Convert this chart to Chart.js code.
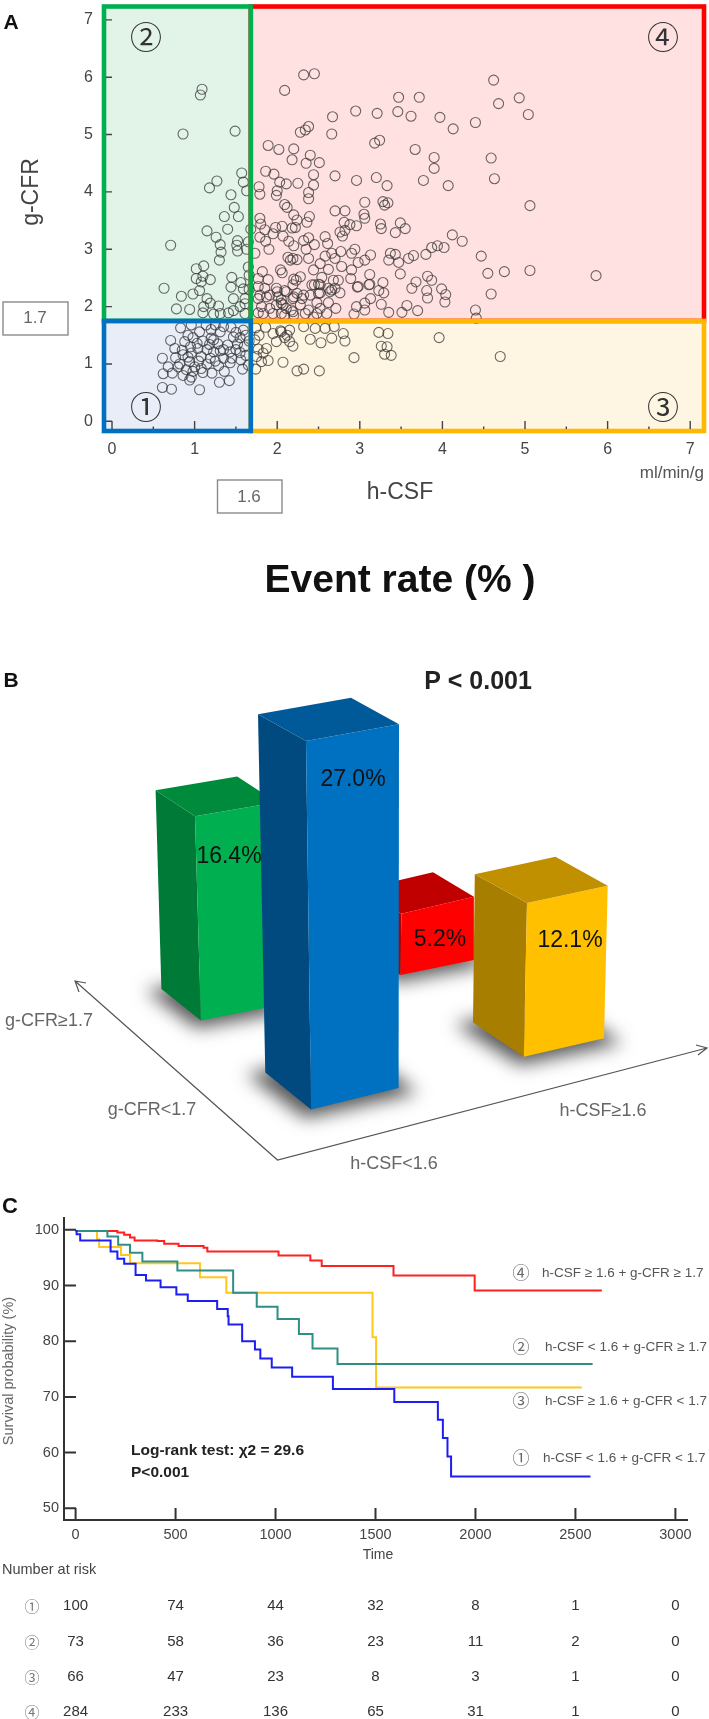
<!DOCTYPE html>
<html>
<head>
<meta charset="utf-8">
<title>h-CSF and g-CFR</title>
<script src="https://cdn.jsdelivr.net/npm/chart.js@4"></script>
<style>
	html, body { margin: 0; padding: 0; background: #fff; }
	#page { position: relative; width: 709px; height: 1719px; overflow: hidden; }
	canvas { position: absolute; left: 0; }
</style>
</head>
<body>
<div id="page">
	<canvas id="scatterChart" width="709" height="620" style="top:0"></canvas>
	<canvas id="eventChart" width="709" height="630" style="top:620px"></canvas>
	<canvas id="survivalChart" width="709" height="529" style="top:1190px"></canvas>
</div>
<script>
// panel A: h-CSF, g-CFR of each patient, by quadrant
const q1 = [[.83,1.63],[1.06,1.56],[1.14,1.68],[.71,1.41],[.88,1.39],[.98,1.46],[1.40,1.33],[1.55,1.46],[1.44,1.64],[1.31,1.56],[1.59,1.59],[1.04,1.27],[1.15,1.25],[.85,1.24],[1.23,1.21],[1.31,1.23],[1.43,1.21],[.96,1.19],[.77,1.11],[.86,1.16],[1.08,1.13],[1.19,1.10],[.61,1.10],[.82,1.0],[.94,1.04],[.68,.95],[1.29,.97],[1.43,1.02],[1.56,1.07],[1.08,.92],[.98,.87],[.73,.84],[.86,.80],[.62,.83],[1.21,.84],[1.36,.87],[1.58,.91],[.96,.77],[.94,.72],[1.42,.71],[1.30,.68],[.61,.59],[.72,.56],[1.06,.55],[.96,1.68],[1.47,1.47],[1.23,1.42],[.92,1.5],[1.2,1.45],[1.28,1.35],[1.35,1.25],[1.5,1.25],[1.55,1.2],[1.6,1.3],[1.62,1.5],[1.5,1.55],[1.2,1.6],[1.35,1.65],[1.1,1.4],[.95,1.3],[1.05,1.05],[1.15,1.0],[1.25,1.05],[1.35,1.1],[1.45,1.1],[1.0,.95],[.8,.95],[.9,.9],[1.1,.85],[1.62,1.15],[1.03,1.36],[1.18,1.34],[.76,1.27],[.92,1.12],[1.52,1.35],[1.66,1.4],[1.65,.98],[1.25,1.68]];
const q2 = [[1.09,5.79],[1.07,5.69],[.86,5.01],[1.49,5.06],[1.57,4.33],[1.27,4.19],[1.18,4.07],[1.59,4.17],[1.63,4.02],[1.44,3.95],[1.48,3.73],[1.36,3.57],[1.53,3.57],[1.40,3.35],[1.15,3.32],[1.26,3.21],[1.68,3.35],[.71,3.07],[1.31,3.08],[1.52,3.15],[1.51,3.07],[1.52,2.97],[1.32,2.95],[1.30,2.81],[1.65,3.13],[1.63,3.0],[1.11,2.71],[1.02,2.66],[1.10,2.53],[1.02,2.49],[1.19,2.47],[1.08,2.43],[1.45,2.51],[1.65,2.69],[1.56,2.42],[1.44,2.34],[1.59,2.31],[1.06,2.28],[.63,2.32],[.84,2.18],[.98,2.22],[1.15,2.14],[1.19,2.06],[1.47,2.14],[1.61,2.14],[1.29,2.01],[1.11,2.0],[.78,1.96],[.94,1.95],[1.10,1.89],[1.23,1.87],[1.31,1.88],[1.41,1.89],[1.47,1.93],[1.55,2.0],[1.61,1.88],[1.61,2.05],[1.66,2.3],[1.66,2.55]];
const q3 = [[2.05,1.56],[2.15,1.59],[2.09,1.46],[2.15,1.39],[2.19,1.31],[2.32,1.65],[2.46,1.62],[2.58,1.62],[2.69,1.65],[2.80,1.53],[2.82,1.40],[2.40,1.43],[2.53,1.37],[2.66,1.45],[3.23,1.55],[3.34,1.53],[3.26,1.31],[3.33,1.30],[3.30,1.17],[3.38,1.15],[3.96,1.46],[2.93,1.11],[2.07,1.03],[2.24,.88],[2.32,.91],[2.51,.88],[4.70,1.13],[1.74,1.63],[1.86,1.64],[1.78,1.50],[2.04,1.58],[1.99,1.39],[2.12,1.50],[1.77,1.26],[1.83,1.19],[1.89,1.06],[1.81,1.04],[1.74,.91],[1.75,1.13],[1.95,1.53],[1.87,1.27],[1.73,1.42]];
const q4 = [[2.32,6.04],[2.45,6.06],[2.09,5.77],[2.95,5.41],[2.67,5.31],[2.38,5.14],[2.34,5.08],[2.28,5.04],[2.66,5.01],[1.89,4.81],[2.02,4.74],[2.20,4.75],[2.18,4.56],[2.40,4.64],[2.35,4.50],[2.51,4.51],[1.86,4.36],[1.96,4.31],[2.03,4.17],[2.11,4.14],[2.25,4.15],[2.44,4.30],[2.44,4.12],[2.70,4.28],[2.96,4.20],[1.78,4.09],[1.79,3.96],[2.00,4.02],[1.99,3.94],[2.38,3.99],[2.38,3.88],[2.09,3.78],[2.12,3.73],[2.20,3.60],[2.24,3.51],[2.39,3.57],[2.36,3.47],[2.70,3.67],[2.82,3.67],[2.81,3.47],[2.88,3.43],[2.96,3.41],[2.76,3.30],[2.82,3.33],[2.79,3.23],[1.79,3.54],[1.80,3.44],[1.85,3.34],[1.98,3.38],[2.06,3.40],[1.95,3.27],[2.07,3.23],[2.18,3.37],[2.22,3.38],[1.79,3.21],[1.86,3.14],[2.14,3.14],[2.20,3.06],[2.32,3.15],[2.38,3.20],[2.45,3.08],[2.58,3.22],[2.61,3.10],[1.90,3.0],[2.35,3.0],
	[4.62,5.95],[3.47,5.65],[3.72,5.65],[4.93,5.64],[3.21,5.37],[3.46,5.40],[3.62,5.32],[3.97,5.30],[4.13,5.10],[4.40,5.21],[4.68,5.54],[5.04,5.35],[3.24,4.90],[3.18,4.85],[3.67,4.74],[3.90,4.60],[4.59,4.59],[3.90,4.41],[3.77,4.20],[4.07,4.11],[4.63,4.23],[3.20,4.25],[3.33,4.11],[3.06,3.82],[3.28,3.83],[3.34,3.81],[3.30,3.77],[5.06,3.76],[3.05,3.61],[3.06,3.54],[3.25,3.44],[3.26,3.36],[3.49,3.46],[3.55,3.36],[3.43,3.29],[4.12,3.25],[4.24,3.14],[3.87,3.03],[3.94,3.06],[4.02,3.03],[2.94,3.0],
	[4.47,2.88],[3.80,2.91],[3.65,2.89],[3.59,2.84],[3.37,2.93],[3.43,2.91],[3.35,2.81],[3.47,2.77],[3.13,2.90],[3.06,2.81],[2.98,2.77],[2.77,2.96],[2.90,2.93],[2.58,2.88],[2.70,2.84],[2.66,2.93],[2.38,2.84],[2.24,2.82],[2.16,2.81],[2.78,2.70],[2.44,2.64],[2.62,2.65],[2.52,2.75],[2.90,2.64],[2.89,2.49],[3.49,2.57],[3.12,2.56],[4.55,2.58],[4.75,2.61],[5.06,2.63],[5.86,2.54],[3.82,2.53],[3.87,2.46],[3.68,2.43],[3.63,2.32],[3.28,2.42],[3.12,2.39],[2.98,2.35],[3.23,2.28],[3.29,2.24],[3.81,2.28],[3.82,2.15],[3.99,2.31],[4.04,2.21],[4.03,2.08],[4.59,2.22],[3.13,2.14],[3.06,2.06],[3.26,2.04],[3.35,1.90],[3.51,1.90],[3.57,2.02],[3.70,1.93],[2.96,2.0],[3.06,1.94],[2.93,1.87],[4.40,1.94],[4.41,1.80],
	[2.54,2.51],[2.45,2.38],[2.28,2.52],[2.20,2.48],[2.68,2.46],[2.74,2.46],[2.52,2.38],[2.70,2.32],[2.62,2.32],[2.76,2.24],[2.64,2.26],[2.52,2.24],[2.40,2.20],[2.24,2.23],[2.32,2.2],[2.20,2.17],
	[1.73,2.93],[2.19,2.84],[2.13,2.86],[1.82,2.61],[2.04,2.64],[2.06,2.59],[1.77,2.49],[1.89,2.47],[1.99,2.32],[1.85,2.32],[1.77,2.35],[2.23,2.46],[2.19,2.38],[2.11,2.26],[1.91,2.2],[2.01,2.17],[1.79,2.2],[1.77,2.14],[2.19,2.14],
	[2.09,2.28],[2.05,2.06],[2.3,2.14],[2.42,2.38],[2.5,2.39],[2.5,2.23],[2.48,2.07],[2.62,2.07],[2.71,1.97],[2.66,2.29],[2.97,2.34],[3.11,2.38],[2.17,1.94],[2.28,2.03],[2.07,2.03],[2.38,1.94],[2.52,1.97],[2.44,1.82],[2.2,1.85],[2.09,1.85],[2.34,1.88],[2.48,1.88],[2.6,1.88],[1.87,2.17],[2.0,2.26],[2.05,2.12],[1.81,2.0],[1.91,1.97],[1.99,2.03],[2.11,1.97],[1.77,1.89],[1.83,1.88],[2.05,1.88],[2.19,1.91],[1.95,1.88]];
const hCsfTicks = [0, 1, 2, 3, 4, 5, 6, 7];
const gCfrTicks = [0, 1, 2, 3, 4, 5, 6, 7];
const hCsfSplit = 1.68;
const gCfrSplit = 1.75;

// panel B: event rate (%)
const eventGroups = ["h-CSF<1.6, g-CFR≥1.7", "h-CSF<1.6, g-CFR<1.7", "h-CSF≥1.6, g-CFR≥1.7", "h-CSF≥1.6, g-CFR<1.7"];
const eventRates = [16.4, 27.0, 5.2, 12.1];

// panel C: Kaplan-Meier steps, time then survival probability (%)
const time1 = [0, 5, 23, 175, 209, 243, 300, 352, 425, 504, 561, 708, 761, 765, 833, 897, 924, 981, 1083, 1287, 1594, 1812, 1837, 1860, 1878, 2575];
const surv1 = [99.8, 99.2, 98.1, 96.1, 94.8, 93.9, 91.9, 90.9, 89.7, 88.4, 87.2, 85.8, 84.5, 83, 80, 78.5, 76.9, 75.3, 73.6, 71.4, 69.1, 65.9, 62.6, 59.3, 55.7, 55.7];
const time2 = [0, 159, 213, 272, 334, 509, 788, 906, 1010, 1117, 1185, 1310, 2586];
const surv2 = [99.8, 98.8, 97.3, 95.9, 94.3, 92.7, 88.7, 86.2, 84, 81.3, 78.7, 75.9, 75.9];
const time3 = [0, 107, 118, 227, 272, 622, 754, 1485, 1503, 2532];
const surv3 = [99.8, 98.3, 96.9, 95.5, 94, 91.5, 88.7, 80.7, 71.7, 71.7];
const time4 = [0, 209, 243, 272, 295, 409, 443, 515, 640, 659, 1015, 1174, 1231, 1590, 1996, 2632];
const surv4 = [99.8, 99.5, 99.1, 98.6, 98.1, 98, 97.5, 97.1, 96.8, 96.1, 95.4, 94.5, 93.5, 91.8, 89.1, 89.1];
const timeTicks = [0, 500, 1000, 1500, 2000, 2500, 3000];
const survTicks = [50, 60, 70, 80, 90, 100];
const risk1 = [100, 74, 44, 32, 8, 1, 0];
const risk2 = [73, 58, 36, 23, 11, 2, 0];
const risk3 = [66, 47, 23, 8, 3, 1, 0];
const risk4 = [284, 233, 136, 65, 31, 1, 0];

const sans = '"Liberation Sans", Arial, sans-serif';
const cjk = '"Noto Sans CJK JP", sans-serif';

function note(ctx, text, x, y, font, color, align, angle) {
	ctx.save();
	ctx.translate(x, y);
	if (angle) ctx.rotate(angle);
	ctx.font = font;
	ctx.fillStyle = color;
	ctx.textAlign = align || "center";
	ctx.textBaseline = "middle";
	ctx.fillText(text, 0, 0);
	ctx.restore();
}

function poly(ctx, pts) {
	ctx.beginPath();
	ctx.moveTo(pts[0][0], pts[0][1]);
	for (let i = 1; i < pts.length; i++) ctx.lineTo(pts[i][0], pts[i][1]);
	ctx.closePath();
}

function fixedTicks(list) {
	return function(scale) {
		scale.ticks = list.map((v) => ({ value: v }));
	};
}

// fixed axis band, and no room kept for the half labels at its ends
function fitWidth(w) {
	return function(s) {
		s.width = w;
		s.paddingTop = 0;
		s.paddingBottom = 0;
	};
}

function fitHeight(h) {
	return function(s) {
		s.height = h;
		s.paddingLeft = 0;
		s.paddingRight = 0;
	};
}

function toPoints(pairs) {
	return pairs.map((p) => ({ x: p[0], y: p[1] }));
}

function stepPoints(xs, ys) {
	return xs.map((x, i) => ({ x: x, y: ys[i] }));
}

// ---------- panel A ----------
const quadrants = [
	{ fill: "#FFE1E1", line: "#FF0000", box: (x, y) => [hCsfSplit, x.max, gCfrSplit, y.max] },
	{ fill: "#FFF5E3", line: "#FFB800", box: (x, y) => [hCsfSplit, x.max, y.min, gCfrSplit] },
	{ fill: "#E2F3E8", line: "#00B050", box: (x, y) => [x.min, hCsfSplit, gCfrSplit, y.max] },
	{ fill: "#E9EDF7", line: "#0070C0", box: (x, y) => [x.min, hCsfSplit, y.min, gCfrSplit] }
];

function quadrantRect(chart, q) {
	const x = chart.scales.x, y = chart.scales.y;
	const b = q.box(x, y);
	const left = x.getPixelForValue(b[0]), right = x.getPixelForValue(b[1]);
	const top = y.getPixelForValue(b[3]), bottom = y.getPixelForValue(b[2]);
	return [left, top, right - left, bottom - top];
}

const quadrantPlugin = {
	id: "quadrants",
	beforeDatasetsDraw(chart) {
		const ctx = chart.ctx;
		quadrants.forEach((q) => {
			const r = quadrantRect(chart, q);
			ctx.fillStyle = q.fill;
			ctx.fillRect(r[0], r[1], r[2], r[3]);
		});
	},
	afterDatasetsDraw(chart) {
		const ctx = chart.ctx;
		const x = chart.scales.x, y = chart.scales.y;
		// coloured frames go over the circles
		quadrants.forEach((q) => {
			const r = quadrantRect(chart, q);
			ctx.strokeStyle = q.line;
			ctx.lineWidth = 4.6;
			ctx.strokeRect(r[0], r[1], r[2], r[3]);
		});
		ctx.strokeStyle = "#444";
		ctx.lineWidth = 1.4;
		ctx.beginPath();
		gCfrTicks.forEach((v) => {
			const py = y.getPixelForValue(v);
			ctx.moveTo(106, py);
			ctx.lineTo(112, py);
		});
		hCsfTicks.forEach((v) => {
			const px = x.getPixelForValue(v);
			ctx.moveTo(px, 429);
			ctx.lineTo(px, 421);
			if (v < 7) {
				const half = x.getPixelForValue(v + 0.5);
				ctx.moveTo(half, 429);
				ctx.lineTo(half, 426.5);
			}
		});
		ctx.stroke();

		note(ctx, "②", 146, 37, "32px " + cjk, "#333");
		note(ctx, "④", 663, 37, "32px " + cjk, "#333");
		note(ctx, "①", 146, 407, "32px " + cjk, "#333");
		note(ctx, "③", 663, 407, "32px " + cjk, "#333");
	},
	afterDraw(chart) {
		const ctx = chart.ctx;
		note(ctx, "A", 11, 23, "bold 21px " + sans, "#111");
		note(ctx, "g-CFR", 32, 192, "23px " + sans, "#444", "center", -Math.PI / 2);
		note(ctx, "h-CSF", 400, 493, "23px " + sans, "#444");
		note(ctx, "ml/min/g", 704, 473, "17px " + sans, "#555", "right");
		ctx.strokeStyle = "#8a8a8a";
		ctx.lineWidth = 1.4;
		ctx.strokeRect(3, 302, 65, 33);
		ctx.strokeRect(217.5, 480, 64.5, 33);
		note(ctx, "1.7", 35, 318, "17px " + sans, "#666");
		note(ctx, "1.6", 249, 497, "17px " + sans, "#666");
		note(ctx, "Event rate (% )", 400, 581, "bold 39px " + sans, "#111");
	}
};

function scatterSet(pairs) {
	return {
		data: toPoints(pairs),
		pointRadius: 5,
		pointBackgroundColor: "rgba(0,0,0,0)",
		pointBorderColor: "rgba(50,50,50,0.72)",
		pointBorderWidth: 1.1
	};
}

new Chart(document.getElementById("scatterChart"), {
	type: "scatter",
	data: { datasets: [scatterSet(q4), scatterSet(q3), scatterSet(q2), scatterSet(q1)] },
	options: {
		responsive: false,
		animation: false,
		layout: { autoPadding: false, padding: { top: 6.5, right: 5 } },
		plugins: { legend: { display: false }, tooltip: { enabled: false } },
		scales: {
			x: {
				min: -0.097, max: 7.167,
				grid: { display: false, drawTicks: false },
				border: { display: false },
				afterBuildTicks: fixedTicks(hCsfTicks),
				afterFit: fitHeight(189),
				ticks: { padding: 9, maxRotation: 0, autoSkip: false, color: "#444", font: { family: sans, size: 16 }, callback: (v) => String(v) }
			},
			y: {
				min: -0.169, max: 7.233,
				grid: { display: false, drawTicks: false },
				border: { display: false },
				afterBuildTicks: fixedTicks(gCfrTicks),
				afterFit: fitWidth(104),
				ticks: { padding: 11, autoSkip: false, color: "#444", font: { family: sans, size: 16 }, callback: (v) => String(v) }
			}
		}
	},
	plugins: [quadrantPlugin]
});

// ---------- panel B ----------
// the bars stand in a tilted view: each corner is [base x, base y, lean, height factor] in page pixels
const barShapes = [
	{ left: [161.4, 988.9, -5.8, .897], front: [200.9, 1020.5, -5.9, .923], right: [272.1, 1006.6, 4.5, .923], main: "#00B050", side: "#007A37", top: "#008A3C", label: [229, 857] },
	{ left: [265.3, 1072.6, -7.3, .983], front: [311.1, 1109.4, -5.1, 1.011], right: [398.6, 1088.1, .4, .998], main: "#0070C0", side: "#004A80", top: "#005A9A", label: [353, 780] },
	{ left: [360.5, 948.5, 0, .845], front: [400.5, 975, .9, .872], right: [473.9, 960, 0, .9], main: "#FF0000", side: "#B00000", top: "#C00000", label: [440, 940] },
	{ left: [473, 1022.5, 1.8, .908], front: [523.8, 1056.8, 3.2, .941], right: [604, 1038.3, 3.7, .934], main: "#FFC000", side: "#A87E00", top: "#C09000", label: [570, 941] }
];
const drawOrder = [2, 0, 3, 1];
const offsetB = 620;

function cornerTop(c, h) {
	return [c[0] + c[2], c[1] - c[3] * h];
}

const barsPlugin = {
	id: "bars3d",
	afterDatasetsDraw(chart) {
		const ctx = chart.ctx;
		const meta = chart.getDatasetMeta(0);
		ctx.save();
		ctx.translate(0, -offsetB);

		// floor shadows
		ctx.filter = "blur(9px)";
		barShapes.forEach((b) => {
			const back = [b.left[0] + b.right[0] - b.front[0], b.left[1] + b.right[1] - b.front[1]];
			const foot = [b.left, b.front, b.right, back];
			const cx = (b.left[0] + b.right[0]) / 2, cy = (b.front[1] + back[1]) / 2;
			ctx.fillStyle = "rgba(45,45,45,0.8)";
			poly(ctx, foot.map((p) => [cx + (p[0] - cx) * 1.28, cy + 3 + (p[1] - cy) * 1.2]));
			ctx.fill();
		});
		ctx.filter = "none";

		// floor axes with open arrow heads
		ctx.strokeStyle = "#555";
		ctx.lineWidth = 1.2;
		ctx.beginPath();
		ctx.moveTo(75, 981);
		ctx.lineTo(277.5, 1160);
		ctx.lineTo(707, 1048);
		ctx.moveTo(86, 983);
		ctx.lineTo(75, 981);
		ctx.lineTo(79, 992);
		ctx.moveTo(696, 1045);
		ctx.lineTo(707, 1048);
		ctx.lineTo(698, 1055);
		ctx.stroke();

		drawOrder.forEach((i) => {
			const b = barShapes[i];
			const h = meta.data[i].base - meta.data[i].y;
			const tl = cornerTop(b.left, h), tf = cornerTop(b.front, h), tr = cornerTop(b.right, h);
			const tb = [tl[0] + tr[0] - tf[0], tl[1] + tr[1] - tf[1]];
			ctx.fillStyle = b.side;
			poly(ctx, [tl, tf, b.front, b.left]);
			ctx.fill();
			ctx.fillStyle = b.main;
			poly(ctx, [tf, tr, b.right, b.front]);
			ctx.fill();
			ctx.fillStyle = b.top;
			poly(ctx, [tl, tb, tr, tf]);
			ctx.fill();
		});

		drawOrder.forEach((i) => {
			const b = barShapes[i];
			note(ctx, eventRates[i].toFixed(1) + "%", b.label[0], b.label[1], "23px " + sans, "#111");
		});

		note(ctx, "B", 11, 681, "bold 21px " + sans, "#111");
		note(ctx, "P < 0.001", 478, 682, "bold 25px " + sans, "#222");
		note(ctx, "g-CFR≥1.7", 49, 1021, "18px " + sans, "#666");
		note(ctx, "g-CFR<1.7", 152, 1110, "18px " + sans, "#666");
		note(ctx, "h-CSF≥1.6", 603, 1111, "18px " + sans, "#666");
		note(ctx, "h-CSF<1.6", 394, 1164, "18px " + sans, "#666");
		ctx.restore();
	}
};

new Chart(document.getElementById("eventChart"), {
	type: "bar",
	data: {
		labels: eventGroups,
		datasets: [{ data: eventRates, backgroundColor: "rgba(0,0,0,0)" }]
	},
	options: {
		responsive: false,
		animation: false,
		layout: { autoPadding: false, padding: { top: 100, bottom: 125 } },
		plugins: { legend: { display: false }, tooltip: { enabled: false } },
		scales: {
			x: { display: false },
			y: { display: false, min: 0, max: 30 }
		}
	},
	plugins: [barsPlugin]
});

// ---------- panel C ----------
const offsetC = 1190;
const riskRows = [
	{ mark: "①", values: risk1, y: 1606 },
	{ mark: "②", values: risk2, y: 1642 },
	{ mark: "③", values: risk3, y: 1677 },
	{ mark: "④", values: risk4, y: 1712 }
];

const survivalPlugin = {
	id: "survivalExtras",
	afterDraw(chart) {
		const ctx = chart.ctx;
		const x = chart.scales.x, y = chart.scales.y;
		const a = chart.chartArea;
		ctx.strokeStyle = "#333";
		ctx.lineWidth = 2;
		ctx.beginPath();
		ctx.moveTo(a.left, a.top);
		ctx.lineTo(a.left, a.bottom);
		ctx.lineTo(a.right, a.bottom);
		survTicks.forEach((v) => {
			const py = y.getPixelForValue(v);
			ctx.moveTo(a.left, py);
			ctx.lineTo(a.left + 12, py);
		});
		timeTicks.forEach((v) => {
			const px = x.getPixelForValue(v);
			ctx.moveTo(px, a.bottom);
			ctx.lineTo(px, a.bottom - 12);
		});
		ctx.stroke();

		ctx.save();
		ctx.translate(0, -offsetC);
		note(ctx, "C", 10, 1207, "bold 22px " + sans, "#111");
		note(ctx, "Survival probability (%)", 9, 1371, "14.5px " + sans, "#666", "center", -Math.PI / 2);
		note(ctx, "Log-rank test: χ2 = 29.6", 131, 1451, "bold 15.5px " + sans, "#222", "left");
		note(ctx, "P<0.001", 131, 1473, "bold 15.5px " + sans, "#222", "left");
		note(ctx, "④", 521, 1273, "17px " + cjk, "#666");
		note(ctx, "h-CSF ≥ 1.6 + g-CFR ≥ 1.7", 542, 1273, "13.5px " + sans, "#555", "left");
		note(ctx, "②", 521, 1347, "17px " + cjk, "#666");
		note(ctx, "h-CSF < 1.6 + g-CFR ≥ 1.7", 545, 1347, "13.5px " + sans, "#555", "left");
		note(ctx, "③", 521, 1401, "17px " + cjk, "#666");
		note(ctx, "h-CSF ≥ 1.6 + g-CFR < 1.7", 545, 1401, "13.5px " + sans, "#555", "left");
		note(ctx, "①", 521, 1458, "17px " + cjk, "#666");
		note(ctx, "h-CSF < 1.6 + g-CFR < 1.7", 543, 1458, "13.5px " + sans, "#555", "left");
		note(ctx, "Time", 378, 1555, "14px " + sans, "#444");
		note(ctx, "Number at risk", 2, 1570, "14.5px " + sans, "#444", "left");
		riskRows.forEach((r) => {
			note(ctx, r.mark, 32, r.y, "15px " + cjk, "#777");
			r.values.forEach((n, i) => {
				note(ctx, String(n), x.getPixelForValue(timeTicks[i]), r.y, "15px " + sans, "#333");
			});
		});
		ctx.restore();
	}
};

function curve(xs, ys, color) {
	return {
		data: stepPoints(xs, ys),
		stepped: true,
		borderColor: color,
		borderWidth: 2,
		pointRadius: 0,
		fill: false
	};
}

new Chart(document.getElementById("survivalChart"), {
	type: "line",
	data: {
		datasets: [
			curve(time1, surv1, "#1E1EF0"),
			curve(time2, surv2, "#2F8F85"),
			curve(time4, surv4, "#FF2020"),
			curve(time3, surv3, "#FFC61E")
		]
	},
	options: {
		responsive: false,
		animation: false,
		layout: { autoPadding: false, padding: { top: 27, right: 21 } },
		plugins: { legend: { display: false }, tooltip: { enabled: false } },
		scales: {
			x: {
				type: "linear",
				min: -58, max: 3063,
				grid: { display: false, drawTicks: false },
				border: { display: false },
				afterBuildTicks: fixedTicks(timeTicks),
				afterFit: fitHeight(199),
				ticks: { padding: 6, maxRotation: 0, autoSkip: false, color: "#444", font: { family: sans, size: 14.5 }, callback: (v) => String(v) }
			},
			y: {
				min: 47.9, max: 102.3,
				grid: { display: false, drawTicks: false },
				border: { display: false },
				afterBuildTicks: fixedTicks(survTicks),
				afterFit: fitWidth(64),
				ticks: { padding: 5, autoSkip: false, color: "#444", font: { family: sans, size: 14.5 }, callback: (v) => String(v) }
			}
		}
	},
	plugins: [survivalPlugin]
});
</script>
</body>
</html>
